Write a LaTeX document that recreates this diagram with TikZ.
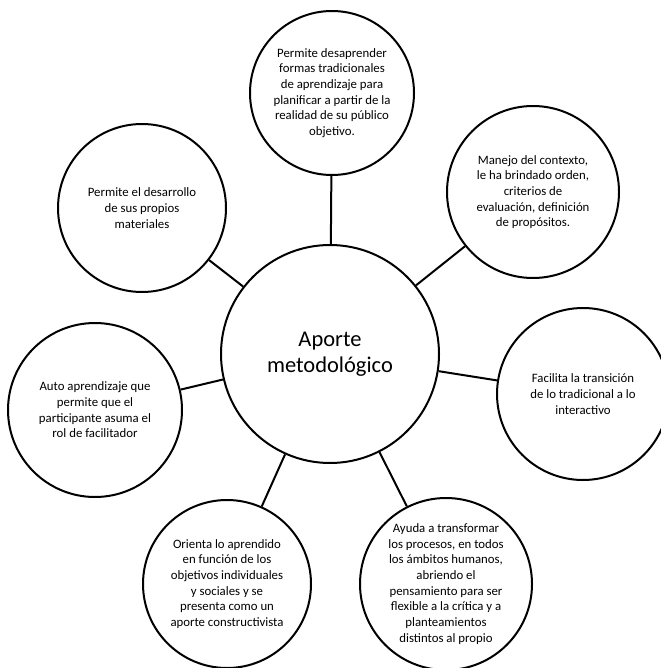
\documentclass[tikz,border=0pt]{standalone}
\usepackage{fontspec}
\setmainfont{Carlito}
\usepackage{tikz}

\begin{document}
\begin{tikzpicture}[x=1pt, y=-1pt, line width=2pt,
        idea/.style={draw, circle, inner sep=0pt, minimum size=172pt, align=center,
            font=\fontsize{12.8}{15.7}\selectfont},
        nucleo/.style={draw, circle, inner sep=0pt, minimum size=218pt, align=center,
            font=\fontsize{22.5}{25.5}\selectfont}]
        \useasboundingbox (0, 0) rectangle (660, 668);

        \node[nucleo] (aporte) at (330, 354) {Aporte\\metodológico};

        \node[idea, minimum size=164pt] (desaprender) at (332, 93) {Permite desaprender\\formas tradicionales\\de aprendizaje para\\planificar a partir de la\\realidad de su público\\objetivo.};
        \node[idea, minimum size=168pt] (desarrollo) at (142, 208) {Permite el desarrollo\\de sus propios\\materiales};
        \node[idea] (contexto) at (533, 192) {Manejo del contexto,\\le ha brindado orden,\\criterios de\\evaluación, definición\\de propósitos.};
        \node[idea, minimum size=174pt] (autoaprendizaje) at (95, 410) {Auto aprendizaje que\\permite que el\\participante asuma el\\rol de facilitador};
        \node[idea] (transicion) at (583, 394) {Facilita la transición\\de lo tradicional a lo\\interactivo};
        \node[idea, minimum size=168pt] (orienta) at (227, 584) {Orienta lo aprendido\\en función de los\\objetivos individuales\\y sociales y se\\presenta como un\\aporte constructivista};
        \node[idea] (ayuda) at (446, 584) {Ayuda a transformar\\los procesos, en todos\\los ámbitos humanos,\\abriendo el\\pensamiento para ser\\flexible a la crítica  y a\\planteamientos\\distintos al propio};

        \foreach \idea in {desaprender, desarrollo, contexto, autoaprendizaje, transicion, orienta, ayuda}
            \draw (aporte) -- (\idea);
    \end{tikzpicture}
\end{document}
